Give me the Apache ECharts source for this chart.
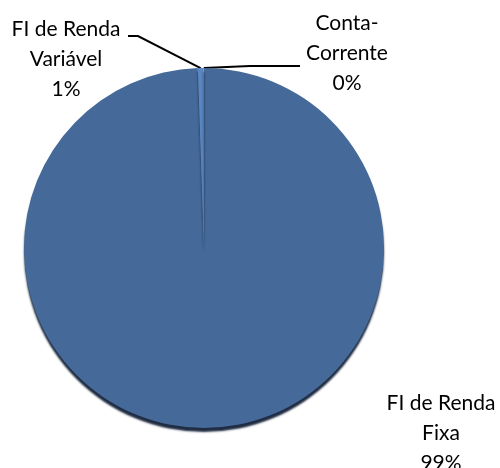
<!DOCTYPE html>
<html>
<head>
<meta charset="utf-8">
<script src="https://cdn.jsdelivr.net/npm/echarts@6/dist/echarts.min.js"></script>
<style>
  html, body { margin: 0; padding: 0; background: #fff; }
  #chart { width: 500px; height: 468px; }
</style>
</head>
<body>
<div id="chart"></div>
<script>
// categories and shares (percent of the portfolio)
const categories = ["FI de Renda\nFixa", "FI de Renda\nVariável", "Conta-\nCorrente"];
const shares = [99.45, 0.5, 0.05];
const sliceColors = ["#456998", "#5a87c3", "#4f7fbf"];

// where each label block sits, and the bend of its leader line
const labelSpots = [
  { x: 441, y: 433, line: null },
  { x: 66, y: 59, line: [[138, 36], [128, 36]] },
  { x: 347, y: 53, line: [[250, 66], [300, 66]] }
];

const chart = echarts.init(document.getElementById("chart"));

const option = {
  animation: false,
  series: [
    {
      type: "pie",
      center: [204, 248],
      radius: 180,
      startAngle: 90,
      percentPrecision: 0,
      avoidLabelOverlap: false,
      itemStyle: {
        borderWidth: 0,
        shadowColor: "rgba(18, 32, 55, 0.95)",
        shadowBlur: 2,
        shadowOffsetY: 4,
        shadowOffsetX: 0
      },
      emphasis: { disabled: true },
      label: {
        show: true,
        position: "outside",
        formatter: "{b}\n{d}%",
        fontFamily: "Lato",
        fontSize: 21,
        lineHeight: 30,
        color: "#000",
        align: "center"
      },
      labelLine: {
        show: true,
        lineStyle: { color: "#000", width: 2 }
      },
      labelLayout: function (params) {
        const spot = labelSpots[params.dataIndex];
        const out = { x: spot.x, y: spot.y, align: "center", verticalAlign: "middle" };
        if (spot.line && params.labelLinePoints) {
          out.labelLinePoints = [params.labelLinePoints[0], spot.line[0], spot.line[1]];
        }
        return out;
      },
      data: categories.map(function (name, i) {
        return {
          name: name,
          value: shares[i],
          itemStyle: { color: sliceColors[i] },
          labelLine: { show: i !== 0 }
        };
      })
    }
  ]
};

chart.setOption(option);
</script>
</body>
</html>
